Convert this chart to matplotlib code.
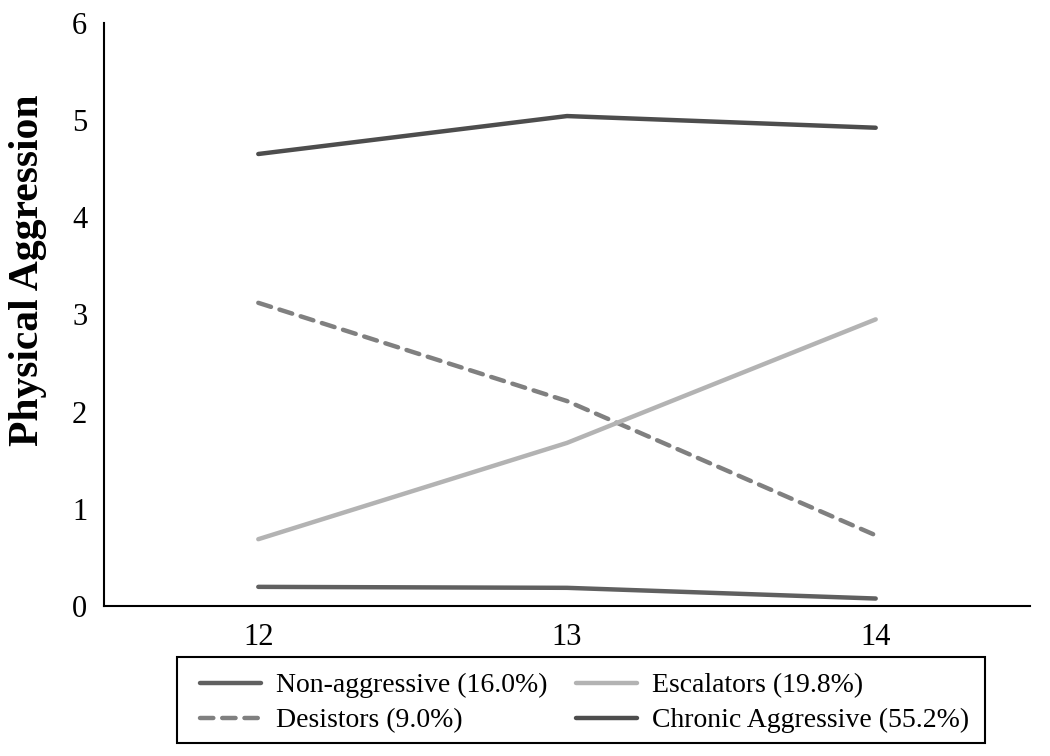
import numpy as np
import matplotlib.pyplot as plt
from matplotlib.patches import Rectangle

plt.rcParams['font.family'] = 'Liberation Serif'

ages = [12, 13, 14]
non_aggressive = [0.20, 0.19, 0.08]
escalators = [0.69, 1.68, 2.95]
desistors = [3.12, 2.11, 0.73]
chronic = [4.65, 5.04, 4.92]

labels = ['Non-aggressive (16.0%)', 'Escalators (19.8%)',
          'Desistors (9.0%)', 'Chronic Aggressive (55.2%)']

fig = plt.figure(figsize=(10.5, 7.56), dpi=100)
ax = fig.add_axes([0.099, 0.198, 0.882, 0.772])

x = np.arange(len(ages))
# order chosen so the legend fills column by column like the original
ax.plot(x, non_aggressive, color='#606060', lw=3.2, solid_capstyle='round', label=labels[0])
ax.plot(x, desistors, color='#808080', lw=3.2, ls=(0, (3, 2)), dash_capstyle='round', label=labels[2])
ax.plot(x, escalators, color='#b3b3b3', lw=3.2, solid_capstyle='round', label=labels[1])
ax.plot(x, chronic, color='#4d4d4d', lw=3.2, solid_capstyle='round', label=labels[3])

ax.set_xlim(-0.5, 2.5)
ax.set_ylim(0, 6)
ax.set_xticks(x)
ax.set_xticklabels([str(a) for a in ages])
ax.set_yticks(range(7))
ax.tick_params(length=0, labelsize=22, pad=12)
ax.spines['top'].set_visible(False)
ax.spines['right'].set_visible(False)
ax.spines['left'].set_linewidth(1.5)
ax.spines['bottom'].set_linewidth(1.5)
ax.set_ylabel('Physical Aggression', fontsize=30, fontweight='bold')
ax.yaxis.set_label_coords(-0.062, 0.575)

# legend box drawn separately, legend itself has no frame
fig.patches.append(Rectangle((177 / 1050, 13 / 756), 808 / 1050, 86 / 756,
                             transform=fig.transFigure, fill=False,
                             edgecolor='black', lw=1.5))
leg = ax.legend(loc='upper left', bbox_to_anchor=(200 / 1050, 0.110),
                bbox_transform=fig.transFigure, ncol=2,
                fontsize=20, frameon=False, handlelength=2.2,
                handletextpad=0.55, borderpad=0, borderaxespad=0,
                columnspacing=1.0, labelspacing=0.35)

fig.savefig('out.png', dpi=100)
